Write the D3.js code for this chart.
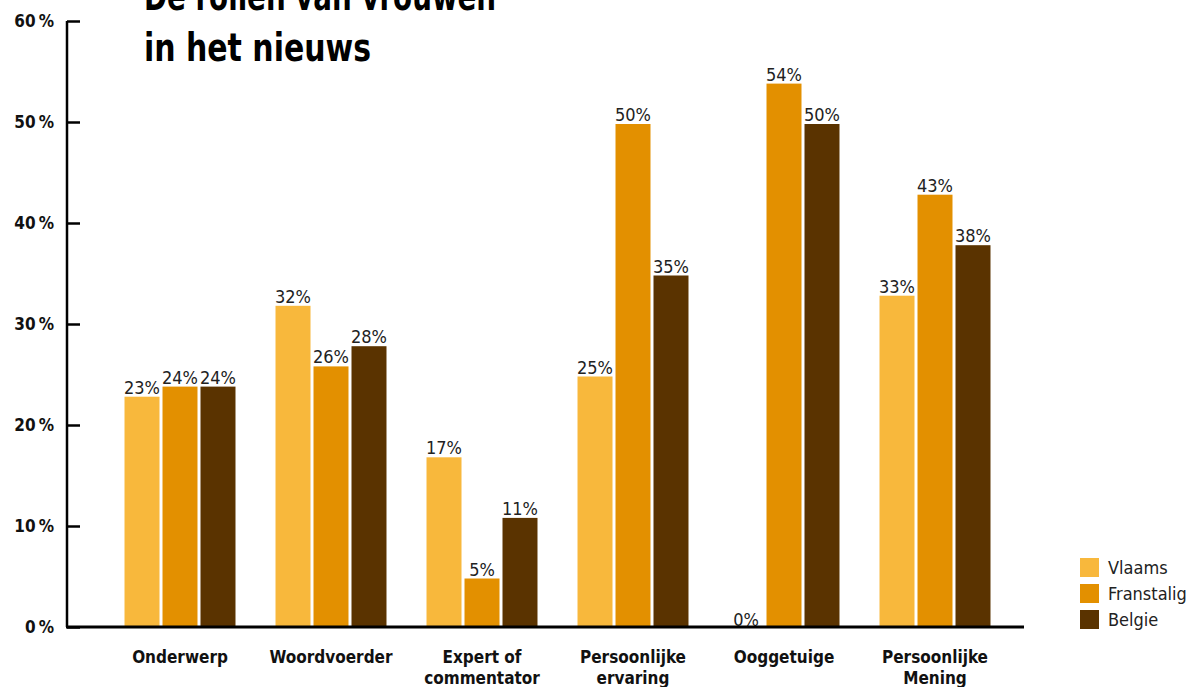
<!DOCTYPE html>
<html>
<head>
<meta charset="utf-8">
<script src="https://cdn.jsdelivr.net/npm/d3@7"></script>
<style>
  body { margin: 0; background: #fff; }
  svg { display: block; }
  .graph__title { font-family: "DejaVu Sans Condensed", "DejaVu Sans", sans-serif; font-weight: bold; font-size: 39px; fill: #000; }
  .bold-label { font-family: "DejaVu Sans Condensed", "DejaVu Sans", sans-serif; font-weight: bold; font-size: 17px; fill: #111; }
  .value-label { font-family: "Liberation Sans Narrow", "DejaVu Sans Condensed", sans-serif; font-size: 18px; fill: #222; }
</style>
</head>
<body>
<svg class="chart"></svg>
<script>
const categories = [["Onderwerp"], ["Woordvoerder"], ["Expert of", "commentator"], ["Persoonlijke", "ervaring"], ["Ooggetuige"], ["Persoonlijke", "Mening"]]
const seriesNames = ["Vlaams", "Franstalig", "Belgie"]
const vlaams = [23, 32, 17, 25, 0, 33]
const franstalig = [24, 26, 5, 50, 54, 43]
const belgie = [24, 28, 11, 35, 50, 38]
const yTicks = [0, 10, 20, 30, 40, 50, 60]
const colors = ["#f8b83c", "#e39000", "#5a3300"]

const width = 1186, height = 687

const svg = d3.select(".chart")
    .attr("width", width)
    .attr("height", height)

const series = [vlaams, franstalig, belgie]
const catKeys = categories.map(c => c.join(" "))

const xScale = d3.scaleBand()
    .domain(catKeys)
    .range([104.5, 1010.5])
    .paddingInner(0.265)
    .paddingOuter(0.1325)

const xInner = d3.scaleBand()
    .domain(seriesNames)
    .range([0, xScale.bandwidth()])
    .paddingInner(0.079)

const yScale = d3.scaleLinear()
    .domain([0, 60])
    .range([627, 21])

// bars
const groups = svg.append("g").selectAll("g")
    .data(catKeys)
    .join("g")
    .attr("transform", d => `translate(${xScale(d)},0)`)

groups.selectAll("rect")
    .data((d, i) => series.map((s, j) => ({name: seriesNames[j], value: s[i], color: colors[j]})))
    .join("rect")
    .attr("x", d => xInner(d.name))
    .attr("width", xInner.bandwidth())
    .attr("y", d => yScale(d.value) + 2)
    .attr("height", d => Math.max(0, yScale(0) - yScale(d.value) - 2))
    .attr("fill", d => d.color)

groups.selectAll("text")
    .data((d, i) => series.map((s, j) => ({name: seriesNames[j], value: s[i]})))
    .join("text")
    .attr("class", "value-label")
    .attr("x", d => xInner(d.name) + xInner.bandwidth() / 2)
    .attr("y", d => yScale(d.value) - 1)
    .attr("text-anchor", "middle")
    .text(d => d.value + "%")

// y axis
const yAxis = svg.append("g")
    .attr("transform", "translate(67,0)")
    .call(d3.axisRight(yScale).tickValues(yTicks).tickSize(13).tickFormat(""))
yAxis.select(".domain").attr("stroke-width", 2.5).attr("d", `M0,${yScale(60)}V${yScale(0)}`)
yAxis.selectAll(".tick line").attr("stroke-width", 2.5)

svg.append("g").selectAll("text")
    .data(yTicks)
    .join("text")
    .attr("class", "bold-label")
    .attr("x", 54)
    .attr("y", d => yScale(d) + 6)
    .attr("text-anchor", "end")
    .text(d => d + "\u2009%")

// x axis
svg.append("line")
    .attr("x1", 66)
    .attr("x2", 1024)
    .attr("y1", yScale(0))
    .attr("y2", yScale(0))
    .attr("stroke", "#000")
    .attr("stroke-width", 3)

const catLabels = svg.append("g").selectAll("text")
    .data(categories)
    .join("text")
    .attr("class", "bold-label")
    .attr("text-anchor", "middle")
    .attr("transform", (d, i) => `translate(${xScale(catKeys[i]) + xScale.bandwidth() / 2}, 663)`)

catLabels.selectAll("tspan")
    .data(d => d)
    .join("tspan")
    .attr("x", 0)
    .attr("dy", (d, i) => i === 0 ? 0 : 21)
    .text(d => d)

// title
const titleLines = ["De rollen van vrouwen", "in het nieuws"]
const titleWidths = [352, 227]
svg.append("text")
    .attr("class", "graph__title")
    .selectAll("tspan")
    .data(titleLines)
    .join("tspan")
    .attr("x", 144)
    .attr("y", (d, i) => 10 + i * 51)
    .attr("textLength", (d, i) => titleWidths[i])
    .attr("lengthAdjust", "spacingAndGlyphs")
    .text(d => d)

// legend
const legend = svg.append("g")
    .attr("transform", "translate(1080,558)")

seriesNames.forEach((name, i) => {
    legend.append("rect")
        .attr("y", i * 26)
        .attr("width", 19)
        .attr("height", 19)
        .attr("fill", colors[i])
    legend.append("text")
        .attr("class", "value-label")
        .attr("x", 28)
        .attr("y", i * 26 + 16)
        .text(name)
})
</script>
</body>
</html>
